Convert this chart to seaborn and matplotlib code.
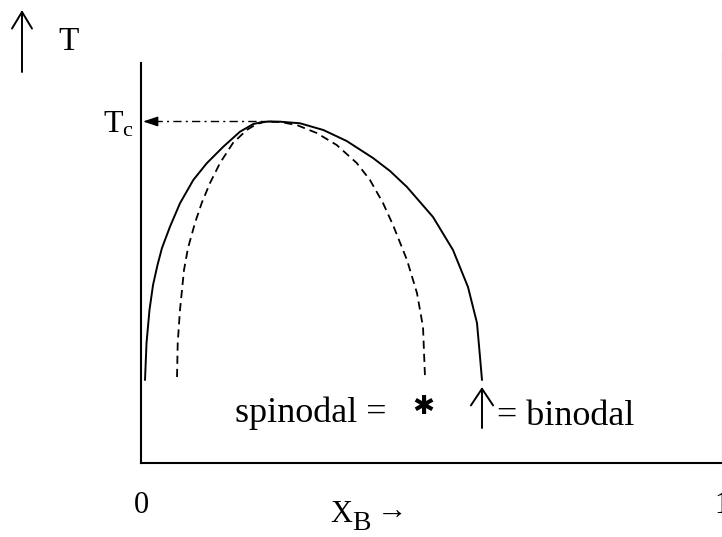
import matplotlib
matplotlib.use("Agg")
import matplotlib.pyplot as plt
from matplotlib.lines import Line2D
import pandas as pd
import seaborn as sns

# Binodal (coexistence) curve: mole fraction x_B against reduced temperature
binodal_x = [0.0069, 0.0095, 0.0146, 0.0207, 0.0284, 0.0361, 0.0499, 0.0671,
             0.0900, 0.1131, 0.1417, 0.1704, 0.1933, 0.2100, 0.2238, 0.2392,
             0.2737, 0.3138, 0.3540, 0.3993, 0.4286, 0.4578, 0.5026, 0.5370,
             0.5628, 0.5783, 0.5835, 0.5869]
binodal_T = [0.2075, 0.300, 0.3825, 0.445, 0.495, 0.5375, 0.5908, 0.6493,
             0.7075, 0.7493, 0.7908, 0.8283, 0.8475, 0.8528, 0.8538, 0.8533,
             0.8493, 0.8325, 0.805, 0.7625, 0.73, 0.69, 0.615, 0.5325,
             0.44, 0.35, 0.265, 0.2075]

# Spinodal curve (limit of local stability)
spinodal_x = [0.0620, 0.0632, 0.0671, 0.0740, 0.0809, 0.0929, 0.1045, 0.1188,
              0.1360, 0.1583, 0.1819, 0.1991, 0.2134, 0.2392, 0.2680, 0.3024,
              0.3368, 0.3713, 0.3941, 0.4165, 0.4337, 0.4578, 0.4750, 0.4854,
              0.4888]
spinodal_T = [0.215, 0.300, 0.3825, 0.4825, 0.5375, 0.600, 0.650, 0.700,
              0.750, 0.800, 0.8325, 0.8475, 0.853, 0.8525, 0.845, 0.825,
              0.795, 0.750, 0.7075, 0.650, 0.595, 0.5075, 0.425, 0.340,
              0.215]

x_tick_values = [0, 1]
x_tick_labels = ["0", "1"]

sns.set_style("white")
plt.rcParams["font.family"] = ["Liberation Serif", "DejaVu Serif"]
plt.rcParams["text.color"] = "black"
plt.rcParams["mathtext.fontset"] = "custom"
plt.rcParams["mathtext.rm"] = "Liberation Serif"
plt.rcParams["mathtext.it"] = "Liberation Serif:italic"

W, H = 722, 537
fig = plt.figure(figsize=(W / 100, H / 100), dpi=100)
ax = fig.add_axes([141 / W, (H - 463) / H, (W - 141) / W, 400 / H])

binodal = pd.DataFrame({"x": binodal_x, "T": binodal_T})
spinodal = pd.DataFrame({"x": spinodal_x, "T": spinodal_T})

sns.lineplot(data=binodal, x="x", y="T", sort=False, estimator=None,
             color="black", linewidth=1.4, ax=ax)
sns.lineplot(data=spinodal, x="x", y="T", sort=False, estimator=None,
             color="black", linewidth=1.3, linestyle=(0, (4.5, 2.8)), ax=ax)

ax.set_xlim(0, 1)
ax.set_ylim(0, 1)
ax.set_xlabel("")
ax.set_ylabel("")
for side in ("top", "right"):
    ax.spines[side].set_visible(False)
for side in ("left", "bottom"):
    ax.spines[side].set_color("black")
    ax.spines[side].set_linewidth(1.5)

ax.set_xticks(x_tick_values, labels=x_tick_labels)
ax.set_yticks([])
ax.tick_params(axis="x", length=0, pad=20, labelsize=22, colors="black")

# critical point: dash-dot guide back to the temperature axis
Tc = max(binodal_T)
x_c = binodal_x[binodal_T.index(Tc)]
ax.plot([0.022, x_c], [Tc, Tc], color="black", linewidth=1.0,
        linestyle=(0, (6, 3, 1.5, 3)))
ax.annotate("", xy=(0.0034, Tc), xytext=(0.024, Tc),
            arrowprops=dict(arrowstyle="-|>,head_length=0.9,head_width=0.3",
                            mutation_scale=10, lw=1.0, color="black",
                            shrinkA=0, shrinkB=0))
ax.text(-0.012, Tc - 0.027, r"T$_{\rm c}$", fontsize=23, ha="right",
        va="baseline", color="black")

# labels for the two curves
ax.text(0.162, 0.1025, "spinodal =", fontsize=26, ha="left", va="baseline",
        color="black")
ax.text(spinodal_x[-1] - 0.002, 0.14, "\u2731", fontsize=19, ha="center",
        va="center", family="DejaVu Sans", fontweight="bold", color="black")
ax.annotate("", xy=(binodal_x[-1], 0.19), xytext=(binodal_x[-1], 0.0875),
            arrowprops=dict(arrowstyle="->,head_length=0.6,head_width=0.4",
                            mutation_scale=20, lw=1.4, color="black",
                            shrinkA=0, shrinkB=0))
ax.text(0.6127, 0.095, "= binodal", fontsize=26, ha="left", va="baseline",
        color="black")

# composition axis title: X_B with arrow
ax.text((330 - 141) / 581, -0.1475, "X", fontsize=22, ha="left",
        va="baseline", clip_on=False, color="black")
ax.text((352 - 141) / 581, -0.168, "B", fontsize=20, ha="left",
        va="baseline", clip_on=False, color="black")
ax.text((377 - 141) / 581, -0.1425, "\u2192", fontsize=22, ha="left",
        va="baseline", clip_on=False, color="black")

# temperature axis title with arrow
ax.annotate("", xy=(22, H - 10), xytext=(22, H - 72),
            xycoords="figure pixels", textcoords="figure pixels",
            arrowprops=dict(arrowstyle="->,head_length=0.6,head_width=0.36",
                            mutation_scale=20, lw=1.4, color="black",
                            shrinkA=0, shrinkB=0))
fig.text(58 / W, (H - 50) / H, "T", fontsize=24, ha="left", va="baseline",
         color="black")

# thin frame edge on the right
fig.add_artist(Line2D([721.5 / W, 721.5 / W], [(H - 463) / H, (H - 53) / H],
                      color="#666666", linewidth=0.8))

fig.savefig("out.png", dpi=100)
